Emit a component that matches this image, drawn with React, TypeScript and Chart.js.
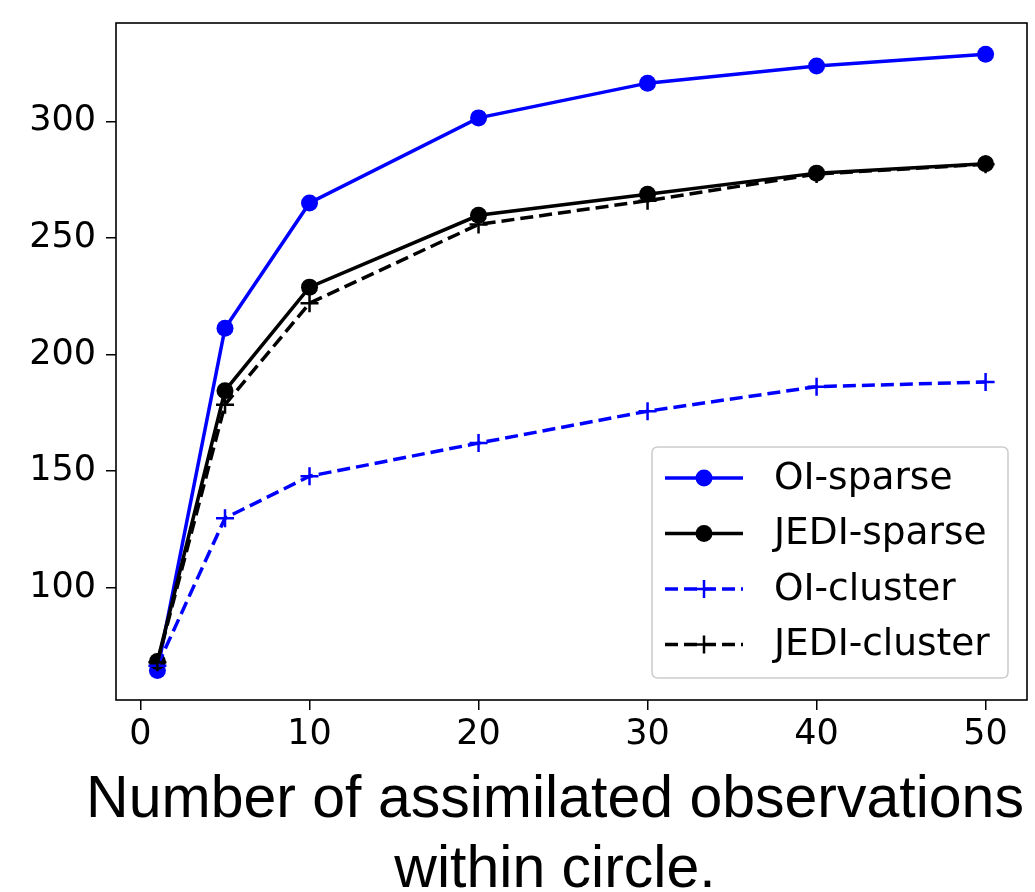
import React, { useEffect, useRef } from "react";
import { Chart, registerables } from "chart.js";

Chart.register(...registerables);

const xValues = [1, 5, 10, 20, 30, 40, 50];
const oiSparse = [64.5, 211.3, 265, 301.5, 316.4, 323.8, 328.8];
const jediSparse = [68.3, 184.5, 228.9, 259.7, 268.7, 277.8, 281.8];
const oiCluster = [66.5, 129.8, 147.8, 162, 175.7, 186.2, 188.2];
const jediCluster = [68, 178.5, 222, 255.8, 266, 277.4, 281.6];
const xTicks = [0, 10, 20, 30, 40, 50];
const yTicks = [100, 150, 200, 250, 300];
const seriesNames = ["OI-sparse", "JEDI-sparse", "OI-cluster", "JEDI-cluster"];
const xTitleLines = ["Number of assimilated observations", "within circle."];

const BLUE = "#0000ff";
const BLACK = "#000000";
const TICK_FONT = "DejaVu Sans";

const seriesStyles = [
  { color: BLUE, dash: [] as number[], marker: "circle" },
  { color: BLACK, dash: [] as number[], marker: "circle" },
  { color: BLUE, dash: [13, 6], marker: "cross" },
  { color: BLACK, dash: [13, 6], marker: "cross" },
];

function pts(vals: number[]) {
  return xValues.map((x, i) => ({ x, y: vals[i] }));
}

const framePlugin = {
  id: "frameLegendTitle",
  afterDatasetsDraw(chart: any) {
    const { ctx, chartArea } = chart;
    const { left, right, top, bottom } = chartArea;
    ctx.save();
    ctx.strokeStyle = "#000";
    ctx.lineWidth = 1.6;
    ctx.setLineDash([]);
    ctx.strokeRect(left, top, right - left, bottom - top);

    // legend
    const bx = 652;
    const by = 447;
    const bw = 356;
    const bh = 231;
    const r = 6;
    ctx.beginPath();
    ctx.moveTo(bx + r, by);
    ctx.lineTo(bx + bw - r, by);
    ctx.quadraticCurveTo(bx + bw, by, bx + bw, by + r);
    ctx.lineTo(bx + bw, by + bh - r);
    ctx.quadraticCurveTo(bx + bw, by + bh, bx + bw - r, by + bh);
    ctx.lineTo(bx + r, by + bh);
    ctx.quadraticCurveTo(bx, by + bh, bx, by + bh - r);
    ctx.lineTo(bx, by + r);
    ctx.quadraticCurveTo(bx, by, bx + r, by);
    ctx.closePath();
    ctx.fillStyle = "rgba(255,255,255,0.8)";
    ctx.fill();
    ctx.strokeStyle = "#cccccc";
    ctx.lineWidth = 1.5;
    ctx.stroke();

    const rowY0 = by + 31;
    const rowGap = 55.5;
    const lx0 = bx + 13;
    const lx1 = bx + 91;
    const mx = (lx0 + lx1) / 2;
    ctx.font = `37.5px "${TICK_FONT}"`;
    ctx.textBaseline = "middle";
    ctx.textAlign = "left";
    seriesNames.forEach((name, i) => {
      const st = seriesStyles[i];
      const y = rowY0 + i * rowGap;
      ctx.strokeStyle = st.color;
      ctx.lineWidth = 3.5;
      ctx.setLineDash(st.dash);
      ctx.beginPath();
      ctx.moveTo(lx0, y);
      ctx.lineTo(lx1, y);
      ctx.stroke();
      ctx.setLineDash([]);
      if (st.marker === "circle") {
        ctx.fillStyle = st.color;
        ctx.beginPath();
        ctx.arc(mx, y, 8.5, 0, Math.PI * 2);
        ctx.fill();
      } else {
        ctx.lineWidth = 2.5;
        ctx.beginPath();
        ctx.moveTo(mx - 9, y);
        ctx.lineTo(mx + 9, y);
        ctx.moveTo(mx, y - 9);
        ctx.lineTo(mx, y + 9);
        ctx.stroke();
      }
      ctx.fillStyle = "#000";
      ctx.fillText(name, bx + 122, y + 1);
    });

    // x title
    ctx.font = `59px "Liberation Sans", Arial, sans-serif`;
    ctx.textAlign = "center";
    ctx.textBaseline = "alphabetic";
    ctx.fillStyle = "#000";
    const cx = 555;
    ctx.fillText(xTitleLines[0], cx, 817);
    ctx.fillText(xTitleLines[1], cx, 887);
    ctx.restore();
  },
};

export default function App() {
  const ref = useRef<HTMLCanvasElement>(null);
  useEffect(() => {
    if (!ref.current) return;
    const datasets = [oiSparse, jediSparse, oiCluster, jediCluster].map((vals, i) => {
      const st = seriesStyles[i];
      return {
        label: seriesNames[i],
        data: pts(vals),
        borderColor: st.color,
        backgroundColor: st.color,
        borderWidth: 3.5,
        borderDash: st.dash,
        pointStyle: st.marker,
        pointRadius: st.marker === "circle" ? 8.5 : 9,
        pointBorderWidth: st.marker === "circle" ? 0 : 2.5,
        pointBackgroundColor: st.color,
        pointBorderColor: st.color,
        tension: 0,
        order: 3 - i,
      };
    });
    const chart = new Chart(ref.current, {
      type: "line",
      data: { datasets: datasets as any },
      options: {
        animation: false,
        responsive: false,
        layout: { autoPadding: false, padding: { left: 0, right: 8, top: 23, bottom: 0 } },
        plugins: { legend: { display: false }, tooltip: { enabled: false } },
        scales: {
          x: {
            type: "linear",
            min: -1.45,
            max: 52.45,
            afterBuildTicks: (s: any) => {
              s.ticks = xTicks.map((v) => ({ value: v }));
            },
            afterFit: (s: any) => {
              s.height = 192;
              s.paddingLeft = 0;
              s.paddingRight = 0;
            },
            border: { display: false },
            grid: {
              drawOnChartArea: false,
              drawTicks: true,
              tickLength: 10,
              color: "#000",
              lineWidth: 1.5,
            },
            ticks: {
              color: "#000",
              font: { family: TICK_FONT, size: 35 },
              padding: 4,
              maxRotation: 0,
            },
          },
          y: {
            type: "linear",
            min: 51.8,
            max: 342.2,
            afterBuildTicks: (s: any) => {
              s.ticks = yTicks.map((v) => ({ value: v }));
            },
            afterFit: (s: any) => {
              s.width = 116;
              s.paddingTop = 0;
              s.paddingBottom = 0;
            },
            border: { display: false },
            grid: {
              drawOnChartArea: false,
              drawTicks: true,
              tickLength: 10,
              color: "#000",
              lineWidth: 1.5,
            },
            ticks: {
              color: "#000",
              font: { family: TICK_FONT, size: 35 },
              padding: 10,
            },
          },
        },
      },
      plugins: [framePlugin],
    });
    return () => chart.destroy();
  }, []);
  return (
    <canvas
      ref={ref}
      width={1035}
      height={892}
      style={{ position: "absolute", left: 0, top: 0, width: 1035, height: 892 }}
    />
  );
}
